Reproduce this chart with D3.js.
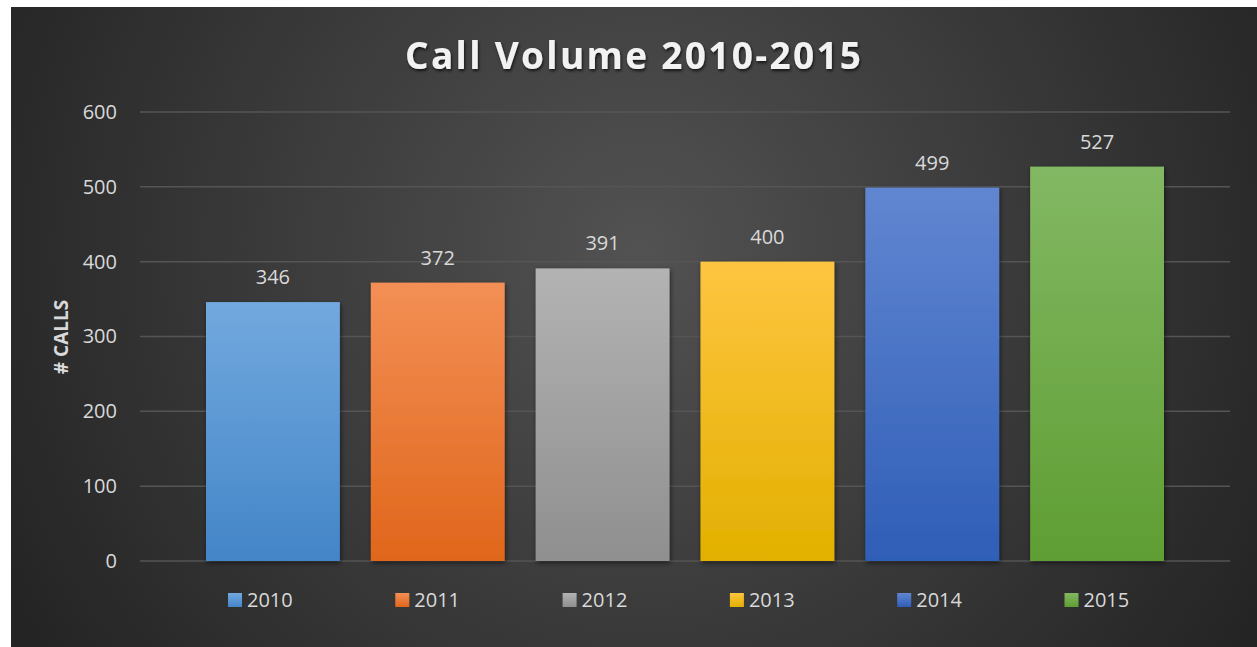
<!DOCTYPE html>
<html>
<head>
<meta charset="utf-8">
<script src="https://cdn.jsdelivr.net/npm/d3@7"></script>
<style>
  body { margin: 0; background: #ffffff; }
  svg { display: block; }
  text { font-family: "Open Sans", "DejaVu Sans", sans-serif; }
</style>
</head>
<body>
<svg id="chart" width="1257" height="647"></svg>
<script>
// data
var years = ["2010", "2011", "2012", "2013", "2014", "2015"];
var calls = [346, 372, 391, 400, 499, 527];
var yTicks = [0, 100, 200, 300, 400, 500, 600];
var topColors = ["#72a9de", "#f38f55", "#b3b3b3", "#fec540", "#6186d1", "#82b863"];
var bottomColors = ["#4385c8", "#e0661b", "#8f8f8f", "#e2b000", "#2f5eb7", "#5f9e33"];

var svg = d3.select("#chart"),
    W = +svg.attr("width"),
    H = +svg.attr("height");

var defs = svg.append("defs");

var bg = defs.append("radialGradient")
    .attr("id", "bg")
    .attr("gradientUnits", "userSpaceOnUse")
    .attr("cx", 640).attr("cy", 250).attr("r", 720);
bg.append("stop").attr("offset", "0%").attr("stop-color", "#525252");
bg.append("stop").attr("offset", "100%").attr("stop-color", "#242424");

years.forEach(function(y, i) {
  var g = defs.append("linearGradient")
      .attr("id", "grad" + i)
      .attr("x1", 0).attr("y1", 0).attr("x2", 0).attr("y2", 1);
  g.append("stop").attr("offset", "0%").attr("stop-color", topColors[i]);
  g.append("stop").attr("offset", "100%").attr("stop-color", bottomColors[i]);
});

var shadow = defs.append("filter").attr("id", "shadow")
    .attr("x", "-10%").attr("y", "-10%").attr("width", "130%").attr("height", "130%");
shadow.append("feDropShadow")
    .attr("dx", 1).attr("dy", 2).attr("stdDeviation", 2.5)
    .attr("flood-color", "#000").attr("flood-opacity", 0.55);

var tshadow = defs.append("filter").attr("id", "tshadow")
    .attr("x", "-10%").attr("y", "-20%").attr("width", "120%").attr("height", "160%");
tshadow.append("feDropShadow")
    .attr("dx", 1).attr("dy", 2).attr("stdDeviation", 1.5)
    .attr("flood-color", "#000").attr("flood-opacity", 0.7);

// chart background
svg.append("rect")
    .attr("x", 11).attr("y", 7)
    .attr("width", W - 11).attr("height", H - 7)
    .attr("fill", "url(#bg)");

var plot = {left: 140, right: 1230, top: 112, bottom: 561};

var x = d3.scaleBand()
    .domain(years)
    .range([plot.left + 66, plot.right - 66])
    .paddingInner(0.188)
    .paddingOuter(0);

var y = d3.scaleLinear()
    .domain([0, 600])
    .range([plot.bottom, plot.top]);

// gridlines
svg.append("g")
  .selectAll("line")
  .data(yTicks)
  .enter().append("line")
    .attr("x1", plot.left)
    .attr("x2", plot.right)
    .attr("y1", function(d) { return y(d); })
    .attr("y2", function(d) { return y(d); })
    .attr("stroke", "#555555")
    .attr("stroke-width", 1.5);

// y axis labels
var yAxis = svg.append("g")
    .attr("transform", "translate(117,0)")
    .call(d3.axisLeft(y).tickValues(yTicks).tickSize(0).tickPadding(0));
yAxis.select(".domain").remove();
yAxis.selectAll("text")
    .attr("fill", "#d9d9d9")
    .style("font-size", "20px")
    .style("font-family", "'Open Sans', sans-serif");

svg.append("text")
    .attr("transform", "translate(68,337) rotate(-90)")
    .attr("text-anchor", "middle")
    .attr("fill", "#d9d9d9")
    .style("font-size", "19px")
    .style("font-weight", "bold")
    .text("# CALLS");

// bars
svg.append("g")
  .selectAll("rect")
  .data(calls)
  .enter().append("rect")
    .attr("x", function(d, i) { return x(years[i]); })
    .attr("y", function(d) { return y(d); })
    .attr("width", x.bandwidth())
    .attr("height", function(d) { return y(0) - y(d); })
    .attr("fill", function(d, i) { return "url(#grad" + i + ")"; })
    .attr("filter", "url(#shadow)");

// value labels
svg.append("g")
  .selectAll("text")
  .data(calls)
  .enter().append("text")
    .attr("x", function(d, i) { return x(years[i]) + x.bandwidth() / 2; })
    .attr("y", function(d) { return y(d) - 18; })
    .attr("text-anchor", "middle")
    .attr("fill", "#d9d9d9")
    .style("font-size", "20px")
    .text(function(d) { return d; });

// title
svg.append("text")
    .attr("x", 633)
    .attr("y", 69)
    .attr("text-anchor", "middle")
    .attr("fill", "#f2f2f2")
    .attr("filter", "url(#tshadow)")
    .attr("textLength", 456)
    .attr("lengthAdjust", "spacing")
    .style("font-size", "37px")
    .style("font-weight", "bold")
    .text("Call Volume 2010-2015");

// legend
var legend = svg.append("g")
  .selectAll("g")
  .data(years)
  .enter().append("g")
    .attr("transform", function(d, i) { return "translate(" + (228 + i * 167.3) + ",593)"; });

legend.append("rect")
    .attr("width", 14).attr("height", 14)
    .attr("fill", function(d, i) { return "url(#grad" + i + ")"; });

legend.append("text")
    .attr("x", 19)
    .attr("y", 14)
    .attr("fill", "#d9d9d9")
    .style("font-size", "20px")
    .text(function(d) { return d; });
</script>
</body>
</html>
